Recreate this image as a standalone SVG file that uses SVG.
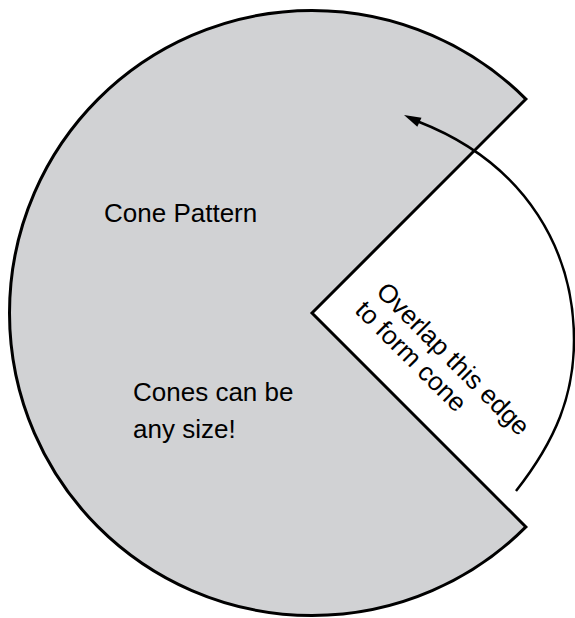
<svg xmlns="http://www.w3.org/2000/svg" width="575" height="618" viewBox="0 0 575 618">
<style>
.lbl{font-family:"Liberation Sans",Arial,Helvetica,sans-serif;font-size:26px;fill:#000}
.pat{fill:#d1d2d4;stroke:#000;stroke-width:3;stroke-linejoin:miter;stroke-miterlimit:10}
.conn{fill:none;stroke:#000;stroke-width:2.5}
</style>
<rect width="575" height="618" fill="#fff"/>
<g id="pattern">
<path class="pat" d="M312,313 L525.9,99.1 A302.5,302.5 0 1 0 525.9,526.9 Z"/>
<text class="lbl" x="104" y="222">Cone Pattern</text>
<text class="lbl" x="133" y="401">Cones can be</text>
<text class="lbl" x="133" y="438">any size!</text>
</g>
<g id="note">
<text class="lbl" transform="translate(375,293) rotate(45)"><tspan x="0" y="0">Overlap this edge</tspan><tspan x="-2" y="28">to form cone</tspan></text>
</g>
<g id="connectors">
<path class="conn" d="M516,491 C556,440 574,395 574,340 C574,255 530,165 418,121.5"/>
<polygon points="404,115 421.5,117.7 417.3,126.7" fill="#000"/>
</g>
</svg>
